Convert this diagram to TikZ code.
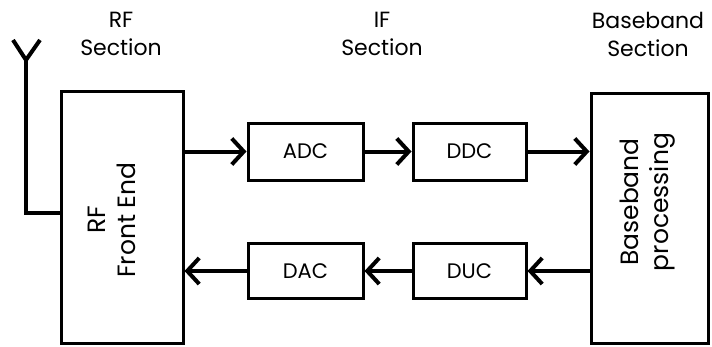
\documentclass[tikz,border=0pt]{standalone}
\usepackage{fontspec}
\setmainfont{Poppins}
\usepackage{tikz}
\usetikzlibrary{arrows.meta}

\tikzset{
  block/.style={draw=black, line width=3pt, rectangle, inner sep=0pt, font=\fontsize{21}{24}\selectfont},
  wire/.style={draw=black, line width=4pt},
  sig/.style={wire, -{Straight Barb[length=12pt, width=26pt, line width=4pt]}},
  heading/.style={align=center, font=\fontsize{22}{28}\selectfont},
  vtext/.style={align=center, rotate=90, font=\fontsize{25}{30}\selectfont}
}

\begin{document}
\begin{tikzpicture}[x=1pt, y=-1pt]
\useasboundingbox (0,0) rectangle (712,346);

% section headings
\node[heading] (rfsec) at (121,34) {RF\\Section};
\node[heading] (ifsec) at (382,34) {IF\\Section};
\node[heading] (bbsec) at (648,34) {Baseband\\Section};

% blocks
\node[block, minimum width=122pt, minimum height=252pt] (rffe) at (122,217) {};
\node[block, minimum width=115pt, minimum height=57pt] (adc) at (305.5,151.5) {ADC};
\node[block, minimum width=113pt, minimum height=57pt] (ddc) at (469.5,151.5) {DDC};
\node[block, minimum width=115pt, minimum height=55pt] (dac) at (305.5,271) {DAC};
\node[block, minimum width=113pt, minimum height=55pt] (duc) at (469.5,271) {DUC};
\node[block, minimum width=117pt, minimum height=250pt] (bb) at (649.5,218) {};

\node[vtext] (rftxt) at ([xshift=-10pt, yshift=-3pt]rffe.center) {RF\\Front End};
\node[vtext] (bbtxt) at ([xshift=-2pt, yshift=16pt]bb.center) {Baseband\\processing};

% antenna
\coordinate (ant) at (26,60);
\coordinate (armL) at (13,40);
\coordinate (armR) at (40,40);
\draw[wire, line width=3.5pt] (rffe.west |- 0,213) -| (ant);
\draw[wire, line width=4pt] (armL) -- (ant) -- (armR);

% receive path
\draw[sig] (rffe.east |- adc) -- (adc.west);
\draw[sig] (adc) -- (ddc);
\draw[sig] (ddc) -- (ddc -| bb.west);

% transmit path
\draw[sig] (bb.west |- duc) -- (duc.east);
\draw[sig] (duc) -- (dac);
\draw[sig] (dac.west) -- (dac -| rffe.east);
\end{tikzpicture}
\end{document}
